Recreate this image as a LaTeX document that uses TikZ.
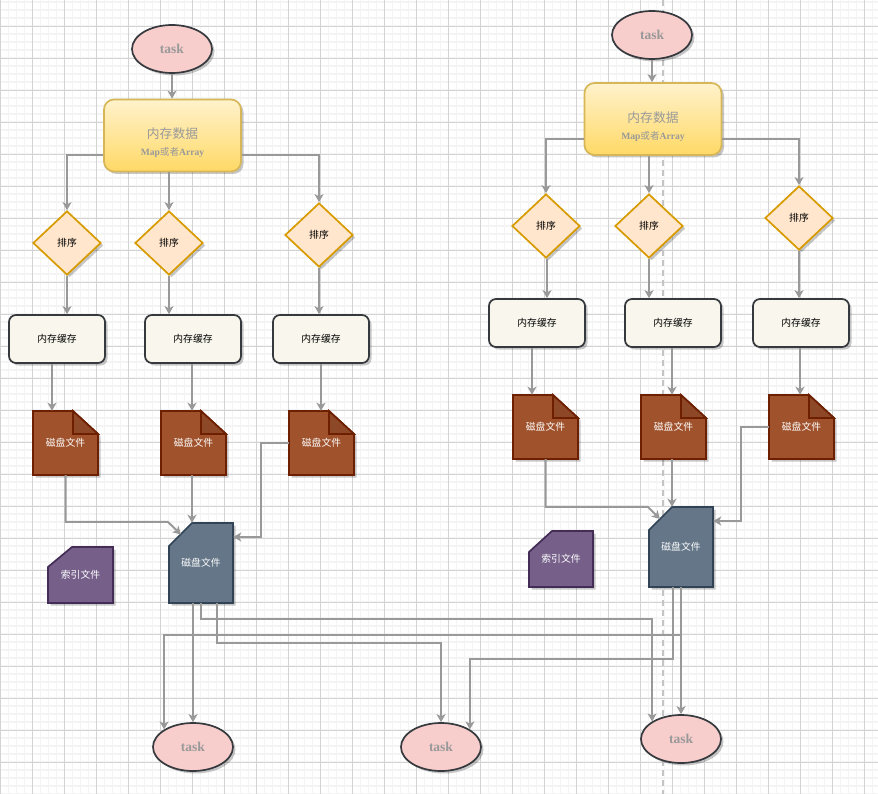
\documentclass[tikz,border=0pt]{standalone}
\usepackage{fontspec}
\setmainfont{Liberation Serif}
\newfontfamily\cjk{Noto Sans CJK SC}
\usetikzlibrary{shapes.geometric,shadows,arrows.meta}
\definecolor{gmin}{HTML}{F4F4F4}
\definecolor{gmaj}{HTML}{D3D3D3}
\definecolor{arrc}{HTML}{999999}
\definecolor{taskf}{HTML}{F8CECC}
\definecolor{darkb}{HTML}{36393D}
\definecolor{txtg}{HTML}{999999}
\definecolor{memtop}{HTML}{FFF2CC}
\definecolor{membot}{HTML}{FFD966}
\definecolor{memb}{HTML}{D6B656}
\definecolor{diaf}{HTML}{FFE6CC}
\definecolor{diab}{HTML}{D79B00}
\definecolor{cachef}{HTML}{F9F7ED}
\definecolor{docf}{HTML}{A0522D}
\definecolor{docb}{HTML}{6D1F00}
\definecolor{mergef}{HTML}{647687}
\definecolor{mergeb}{HTML}{314354}
\definecolor{idxf}{HTML}{76608A}
\definecolor{idxb}{HTML}{432D57}
\definecolor{dashc}{HTML}{C4C4C4}
\tikzset{
  shad/.style={drop shadow={shadow xshift=2.5pt,shadow yshift=-2.5pt,opacity=0.22,fill=black}},
  taskn/.style={ellipse,draw=darkb,fill=taskf,line width=1.7pt,minimum width=80pt,minimum height=48pt,inner sep=0pt,shad,
    font=\fontsize{13.5}{15}\selectfont\bfseries,text=txtg},
  membox/.style={rectangle,rounded corners=10pt,draw=memb,line width=1.7pt,top color=memtop,bottom color=membot,
    minimum width=137pt,minimum height=72pt,inner sep=0pt,shad},
  memtxt/.style={align=center,text=txtg,inner sep=0pt},
  dia/.style={diamond,draw=diab,fill=diaf,line width=1.7pt,minimum width=68pt,minimum height=64pt,inner sep=0pt,shad,
    font=\fontsize{9.8}{11}\selectfont\cjk},
  cache/.style={rectangle,rounded corners=7pt,draw=darkb,fill=cachef,line width=1.7pt,minimum width=96pt,minimum height=48pt,
    inner sep=0pt,shad,font=\fontsize{9.8}{11}\selectfont\cjk},
  docfill/.style={fill=docf,draw=docb,line width=1.7pt,line join=miter,shad},
  docfold/.style={fill=docf!88!black,draw=docb,line width=1.7pt},
  docn/.style={rectangle,minimum width=65pt,minimum height=64pt,inner sep=0pt,text=white,font=\fontsize{9.8}{11}\selectfont\cjk},
  mergefill/.style={fill=mergef,draw=mergeb,line width=1.7pt,shad},
  mergen/.style={rectangle,minimum width=64pt,minimum height=80pt,inner sep=0pt,text=white,font=\fontsize{9.8}{11}\selectfont\cjk},
  idxfill/.style={fill=idxf,draw=idxb,line width=1.7pt,shad},
  idxn/.style={rectangle,minimum width=65pt,minimum height=56pt,inner sep=0pt,text=white,font=\fontsize{9.8}{11}\selectfont\cjk},
  arr/.style={draw=arrc,line width=2pt,-{Stealth[length=8pt,width=9pt,inset=2.2pt]}},
  minorgrid/.style={draw=gmin,line width=1.6pt},
  majorgrid/.style={draw=gmaj,line width=0.9pt},
}
\begin{document}
\begin{tikzpicture}[x=1pt,y=-1pt]
\useasboundingbox (0,0) rectangle (878,794);
\fill[white] (0,0) rectangle (878,794);
\begin{scope}
\clip (0,0) rectangle (878,794);
\foreach \i in {0,...,110} \draw[minorgrid] ({0.5+8*\i},0) -- ++(0,794);
\foreach \i in {0,...,100} \draw[minorgrid] (0,{2+8*\i}) -- ++(878,0);
\foreach \i in {0,...,27} \draw[majorgrid] ({0.5+32*\i},0) -- ++(0,794);
\foreach \i in {0,...,25} \draw[majorgrid] (0,{-6+32*\i}) -- ++(878,0);
\end{scope}
% dashed divider
\draw[dashc,line width=1.8pt,dash pattern=on 6pt off 4pt] (663,0) -- (663,794);

% ---------- left column ----------
\node[taskn] (t1) at (172,49) {task};
\node[membox] (m1) at (172.5,135.5) {};
\node[memtxt] (m1t) at (172.5,143) {{\fontsize{12.8}{14}\selectfont\cjk 内存数据}\\[5pt]{\fontsize{9.6}{11}\selectfont\bfseries Map{\cjk\mdseries 或者}Array}};
\node[dia] (d1) at (67,243) {排序};
\node[dia] (d2) at (169,243) {排序};
\node[dia] (d3) at (319,235) {排序};
\node[cache] (c1) at (57,339) {内存缓存};
\node[cache] (c2) at (193,339) {内存缓存};
\node[cache] (c3) at (321,339) {内存缓存};

\filldraw[docfill] (33,411) -- (73,411) -- (98,434) -- (98,475) -- (33,475) -- cycle;
\filldraw[docfold] (73,411) -- (73,434) -- (98,434) -- cycle;
\node[docn] (f1) at (65.5,443) {磁盘文件};
\filldraw[docfill] (161,411) -- (201,411) -- (226,434) -- (226,475) -- (161,475) -- cycle;
\filldraw[docfold] (201,411) -- (201,434) -- (226,434) -- cycle;
\node[docn] (f2) at (193.5,443) {磁盘文件};
\filldraw[docfill] (289,411) -- (329,411) -- (354,434) -- (354,475) -- (289,475) -- cycle;
\filldraw[docfold] (329,411) -- (329,434) -- (354,434) -- cycle;
\node[docn] (f3) at (321.5,443) {磁盘文件};

\filldraw[mergefill] (169,546) -- (192,523) -- (233,523) -- (233,603) -- (169,603) -- cycle;
\node[mergen] (g1) at (201,563) {磁盘文件};
\filldraw[idxfill] (48,567) -- (72,547) -- (113,547) -- (113,603) -- (48,603) -- cycle;
\node[idxn] (i1) at (80.5,575) {索引文件};

% ---------- right column ----------
\node[taskn] (t2) at (652,35) {task};
\node[membox] (m2) at (653,119) {};
\node[memtxt] (m2t) at (653,126.5) {{\fontsize{12.8}{14}\selectfont\cjk 内存数据}\\[5pt]{\fontsize{9.6}{11}\selectfont\bfseries Map{\cjk\mdseries 或者}Array}};
\node[dia] (d4) at (546,226) {排序};
\node[dia] (d5) at (649,226) {排序};
\node[dia] (d6) at (799,218) {排序};
\node[cache] (c4) at (537,323) {内存缓存};
\node[cache] (c5) at (673,323) {内存缓存};
\node[cache] (c6) at (801,323) {内存缓存};

\filldraw[docfill] (513,395) -- (553,395) -- (578,418) -- (578,459) -- (513,459) -- cycle;
\filldraw[docfold] (553,395) -- (553,418) -- (578,418) -- cycle;
\node[docn] (f4) at (545.5,427) {磁盘文件};
\filldraw[docfill] (641,395) -- (681,395) -- (706,418) -- (706,459) -- (641,459) -- cycle;
\filldraw[docfold] (681,395) -- (681,418) -- (706,418) -- cycle;
\node[docn] (f5) at (673.5,427) {磁盘文件};
\filldraw[docfill] (769,395) -- (809,395) -- (834,418) -- (834,459) -- (769,459) -- cycle;
\filldraw[docfold] (809,395) -- (809,418) -- (834,418) -- cycle;
\node[docn] (f6) at (801.5,427) {磁盘文件};

\filldraw[mergefill] (649,530) -- (672,507) -- (713,507) -- (713,587) -- (649,587) -- cycle;
\node[mergen] (g2) at (681,547) {磁盘文件};
\filldraw[idxfill] (529,552) -- (552,531) -- (593,531) -- (593,587) -- (529,587) -- cycle;
\node[idxn] (i2) at (561,559) {索引文件};

% ---------- bottom tasks ----------
\node[taskn] (tb1) at (193,747) {task};
\node[taskn] (tb2) at (441,747) {task};
\node[taskn] (tb3) at (681,739) {task};

% ---------- connectors left ----------
\draw[arr] (t1.south) -- (t1.south |- m1.north);
\draw[arr] ([yshift=-19.5pt]m1.west) -| (d1.north);
\draw[arr] (m1.south -| d2.north) -- (d2.north);
\draw[arr] ([yshift=-19.5pt]m1.east) -| (d3.north);
\draw[arr] (d1.south) -- (d1.south |- c1.north);
\draw[arr] (d2.south) -- (d2.south |- c2.north);
\draw[arr] (d3.south) -- (d3.south |- c3.north);
\draw[arr] ([xshift=-5pt]c1.south) -- ([xshift=-5pt]c1.south |- f1.north);
\draw[arr] ([xshift=-1pt]c2.south) -- ([xshift=-1pt]c2.south |- f2.north);
\draw[arr] (c3.south) -- (c3.south |- f3.north);
\draw[arr] (f1.south) |- ([xshift=-1pt,yshift=1pt]g1.north west) -- ([xshift=-20pt,yshift=28.5pt]g1.center);
\draw[arr] ([xshift=-1.5pt]f2.south) -- ([xshift=-1.5pt]f2.south |- g1.north);
\draw[arr] (f3.west) -- ++(-28,0) |- ([yshift=26pt]g1.east);

% ---------- connectors right ----------
\draw[arr] (t2.south) -- (t2.south |- m2.north);
\draw[arr] ([yshift=-20pt]m2.west) -| (d4.north);
\draw[arr] (m2.south -| d5.north) -- (d5.north);
\draw[arr] ([yshift=-20pt]m2.east) -| (d6.north);
\draw[arr] ([xshift=1pt]d4.south) -- ([xshift=1pt]d4.south |- c4.north);
\draw[arr] (d5.south) -- (d5.south |- c5.north);
\draw[arr] (d6.south) -- (d6.south |- c6.north);
\draw[arr] ([xshift=-5pt]c4.south) -- ([xshift=-5pt]c4.south |- f4.north);
\draw[arr] ([xshift=-1pt]c5.south) -- ([xshift=-1pt]c5.south |- f5.north);
\draw[arr] ([xshift=-1pt]c6.south) -- ([xshift=-1pt]c6.south |- f6.north);
\draw[arr] (f4.south) |- ([xshift=-1pt,yshift=0pt]g2.north west) -- ([xshift=-21pt,yshift=28pt]g2.center);
\draw[arr] ([xshift=-1.5pt]f5.south) -- ([xshift=-1.5pt]f5.south |- g2.north);
\draw[arr] (f6.west) -- ++(-28,0) |- ([yshift=26pt]g2.east);

% ---------- connectors to bottom tasks ----------
\draw[arr] (tb1.north |- g1.south) -- (tb1.north);
\draw[arr] (g1.south) -- ++(0,16) -| (tb3.north west);
\draw[arr] ([xshift=16pt]g1.south) -- ++(0,40) -| (tb2.north);
\draw[arr] (g2.south) -- (tb3.north);
\draw[arr] (g2.south) -- ++(0,48) -| (tb1.north west);
\draw[arr] ([xshift=-8pt]g2.south) -- ++(0,72) -| (tb2.north east);
\end{tikzpicture}
\end{document}
